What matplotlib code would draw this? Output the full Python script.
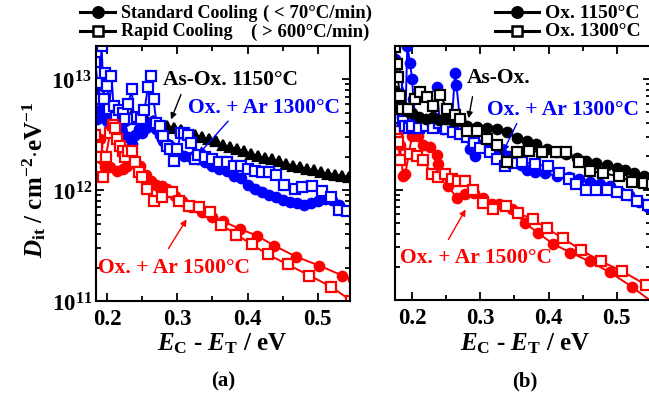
import matplotlib
matplotlib.use('Agg')
import matplotlib.pyplot as plt
from matplotlib.lines import Line2D
from matplotlib.ticker import LogLocator, MultipleLocator, NullFormatter
import numpy as np

plt.rcParams['font.family'] = ['Liberation Serif', 'DejaVu Serif']
plt.rcParams['font.weight'] = 'bold'
plt.rcParams['mathtext.fontset'] = 'custom'
plt.rcParams['mathtext.rm'] = 'Liberation Serif:bold'
plt.rcParams['mathtext.it'] = 'Liberation Serif:bold:italic'
plt.rcParams['mathtext.bf'] = 'Liberation Serif:bold'

# values, Dit stored as log10(Dit / cm^-2 eV^-1)

# ---- panel (a) ----
a_asox_e = [0.185, 0.195, 0.205, 0.215, 0.225, 0.235, 0.245, 0.255, 0.265, 0.275,
            0.285, 0.295, 0.305, 0.315, 0.325, 0.335, 0.345, 0.355, 0.365, 0.375,
            0.385, 0.395, 0.405, 0.415, 0.425, 0.435, 0.445, 0.455, 0.465, 0.475,
            0.485, 0.495, 0.505, 0.515, 0.525, 0.535, 0.545]
a_asox_d = [12.86, 12.78, 12.74, 12.72, 12.70, 12.68, 12.66, 12.64, 12.62, 12.60,
            12.58, 12.56, 12.54, 12.52, 12.50, 12.48, 12.46, 12.44, 12.41, 12.39,
            12.37, 12.35, 12.33, 12.31, 12.29, 12.28, 12.26, 12.24, 12.22, 12.21,
            12.19, 12.18, 12.16, 12.15, 12.14, 12.13, 12.12]

a_ar1300_std_e = [0.185, 0.19, 0.195, 0.20, 0.205, 0.21, 0.215, 0.22, 0.225, 0.23,
                  0.235, 0.24, 0.245, 0.25, 0.255, 0.26, 0.265, 0.27, 0.275, 0.28,
                  0.285, 0.29, 0.30, 0.31, 0.32, 0.33, 0.34, 0.35, 0.36, 0.37,
                  0.38, 0.39, 0.40, 0.41, 0.42, 0.43, 0.44, 0.45, 0.46, 0.47,
                  0.48, 0.49, 0.50, 0.51, 0.52, 0.53]
a_ar1300_std_d = [12.64, 12.72, 12.66, 12.62, 12.70, 12.58, 12.60, 12.55, 12.62, 12.48,
                  12.42, 12.50, 12.55, 12.52, 12.56, 12.60, 12.62, 12.55, 12.50, 12.44,
                  12.42, 12.40, 12.35, 12.31, 12.30, 12.28, 12.25, 12.22, 12.19, 12.17,
                  12.13, 12.11, 12.05, 12.01, 11.98, 11.96, 11.94, 11.91, 11.89, 11.88,
                  11.87, 11.88, 11.90, 11.92, 11.91, 11.87]

a_ar1300_rap_e = [0.183, 0.186, 0.188, 0.192, 0.195, 0.197, 0.200, 0.203, 0.206, 0.209,
                  0.213, 0.217, 0.222, 0.226, 0.230, 0.235, 0.238, 0.243, 0.248, 0.253,
                  0.258, 0.262, 0.266, 0.270, 0.275, 0.280, 0.285, 0.290, 0.295, 0.300,
                  0.305, 0.310, 0.315, 0.320, 0.325, 0.330, 0.340, 0.350, 0.360, 0.370,
                  0.380, 0.390, 0.400, 0.410, 0.420, 0.430, 0.440, 0.452, 0.467, 0.478,
                  0.492, 0.506, 0.519, 0.530, 0.542]
a_ar1300_rap_d = [13.16, 12.97, 12.82, 13.30, 12.82, 13.06, 12.94, 12.73, 13.03, 12.76,
                  12.66, 12.72, 12.70, 12.64, 12.78, 12.91, 12.64, 12.66, 12.64, 12.72,
                  12.93, 13.03, 12.82, 12.61, 12.58, 12.49, 12.40, 12.37, 12.26, 12.37,
                  12.52, 12.52, 12.50, 12.43, 12.28, 12.32, 12.30, 12.28, 12.25, 12.25,
                  12.22, 12.22, 12.19, 12.17, 12.16, 12.16, 12.14, 12.05, 12.01, 12.03,
                  12.04, 11.99, 11.94, 11.82, 11.81]

a_ar1500_std_e = [0.186, 0.189, 0.190, 0.193, 0.197, 0.204, 0.214, 0.222, 0.228, 0.237,
                  0.247, 0.255, 0.262, 0.270, 0.278, 0.285, 0.297, 0.306, 0.320, 0.335,
                  0.350, 0.365, 0.389, 0.413, 0.438, 0.469, 0.502, 0.535, 0.55]
a_ar1500_std_d = [12.40, 12.46, 12.32, 12.28, 12.21, 12.21, 12.17, 12.19, 12.22, 12.25,
                  12.22, 12.14, 12.08, 12.05, 12.04, 12.01, 11.95, 11.90, 11.85, 11.80,
                  11.76, 11.72, 11.65, 11.59, 11.50, 11.40, 11.32, 11.23, 11.20]

a_ar1500_rap_e = [0.183, 0.186, 0.190, 0.194, 0.198, 0.204, 0.208, 0.211, 0.214, 0.218,
                  0.222, 0.226, 0.230, 0.235, 0.240, 0.245, 0.250, 0.257, 0.267, 0.278,
                  0.292, 0.303, 0.316, 0.331, 0.347, 0.362, 0.384, 0.406, 0.429, 0.457,
                  0.488, 0.519, 0.548]
a_ar1500_rap_d = [12.50, 12.39, 12.30, 12.12, 12.30, 12.52, 12.59, 12.56, 12.46, 12.40,
                  12.35, 12.30, 12.35, 12.35, 12.25, 12.16, 12.12, 12.01, 11.90, 11.94,
                  11.98, 11.90, 11.86, 11.85, 11.80, 11.69, 11.60, 11.51, 11.42, 11.33,
                  11.23, 11.13, 11.00]

# ---- panel (b) ----
b_ox1150_e = [0.175, 0.180, 0.185, 0.190, 0.195, 0.200, 0.210, 0.220, 0.230, 0.240,
              0.250, 0.260, 0.270, 0.280, 0.295, 0.310, 0.324, 0.339, 0.353, 0.368,
              0.382, 0.397, 0.411, 0.426, 0.441, 0.455, 0.470, 0.485, 0.500, 0.512,
              0.525, 0.540, 0.552]
b_ox1150_d = [12.89, 12.79, 12.76, 12.72, 12.70, 12.69, 12.66, 12.64, 12.66, 12.63,
              12.64, 12.62, 12.62, 12.58, 12.57, 12.56, 12.55, 12.52, 12.47, 12.44,
              12.41, 12.37, 12.34, 12.32, 12.29, 12.26, 12.24, 12.22, 12.20, 12.18,
              12.15, 12.12, 12.10]

b_ox1300_e = [0.175, 0.178, 0.179, 0.182, 0.185, 0.194, 0.204, 0.212, 0.222, 0.231,
              0.241, 0.251, 0.263, 0.270, 0.280, 0.295, 0.310, 0.324, 0.339, 0.353,
              0.372, 0.391, 0.411, 0.426, 0.445, 0.460, 0.479, 0.503, 0.522, 0.540,
              0.552]
b_ox1300_d = [13.29, 13.14, 13.02, 12.85, 12.73, 12.73, 12.82, 12.88, 12.84, 12.76,
              12.86, 12.73, 12.68, 12.64, 12.53, 12.53, 12.46, 12.40, 12.25, 12.34,
              12.35, 12.34, 12.34, 12.34, 12.25, 12.17, 12.15, 12.12, 12.07, 12.06,
              12.05]

b_ar1300_std_e = [0.175, 0.180, 0.185, 0.190, 0.193, 0.197, 0.200, 0.202, 0.205, 0.210,
                  0.215, 0.220, 0.225, 0.230, 0.236, 0.241, 0.246, 0.252, 0.258, 0.263,
                  0.265, 0.270, 0.278, 0.285, 0.292, 0.300, 0.310, 0.320, 0.330, 0.340,
                  0.350, 0.360, 0.368, 0.380, 0.395, 0.413, 0.430, 0.445, 0.460, 0.475,
                  0.490, 0.505, 0.518, 0.533, 0.545]
b_ar1300_std_d = [13.18, 12.90, 12.66, 12.60, 13.30, 13.15, 13.00, 12.82, 12.62, 12.60,
                  12.58, 12.62, 12.60, 12.62, 12.93, 12.58, 12.55, 12.56, 12.60, 13.06,
                  12.95, 12.64, 12.50, 12.37, 12.30, 12.40, 12.42, 12.38, 12.34, 12.30,
                  12.27, 12.22, 12.18, 12.16, 12.15, 12.12, 12.11, 12.10, 12.07, 12.05,
                  12.03, 11.98, 11.95, 11.89, 11.84]

b_ar1300_rap_e = [0.175, 0.178, 0.182, 0.186, 0.190, 0.195, 0.200, 0.210, 0.220, 0.230,
                  0.240, 0.250, 0.260, 0.270, 0.280, 0.290, 0.300, 0.314, 0.325, 0.336,
                  0.350, 0.361, 0.380, 0.399, 0.415, 0.430, 0.440, 0.455, 0.470, 0.485,
                  0.500, 0.515, 0.530, 0.545]
b_ar1300_rap_d = [13.10, 12.95, 12.75, 12.62, 12.58, 12.56, 12.58, 12.56, 12.58, 12.56,
                  12.60, 12.55, 12.52, 12.50, 12.48, 12.42, 12.38, 12.34, 12.28, 12.21,
                  12.24, 12.25, 12.23, 12.21, 12.15, 12.10, 12.05, 12.00, 12.00, 12.00,
                  11.98, 11.95, 11.90, 11.86]

b_ar1500_std_e = [0.180, 0.182, 0.187, 0.190, 0.200, 0.201, 0.209, 0.216, 0.226, 0.236,
                  0.238, 0.253, 0.266, 0.277, 0.290, 0.304, 0.317, 0.328, 0.347, 0.365,
                  0.384, 0.406, 0.432, 0.460, 0.490, 0.522, 0.552]
b_ar1500_std_d = [12.52, 12.40, 12.12, 12.14, 12.49, 12.59, 12.49, 12.40, 12.39, 12.31,
                  12.23, 12.03, 11.92, 11.96, 11.97, 11.92, 11.87, 11.87, 11.82, 11.70,
                  11.61, 11.51, 11.43, 11.35, 11.25, 11.12, 10.98]

b_ar1500_rap_e = [0.175, 0.178, 0.180, 0.182, 0.197, 0.207, 0.216, 0.229, 0.238, 0.248,
                  0.258, 0.267, 0.277, 0.289, 0.304, 0.318, 0.338, 0.355, 0.377, 0.397,
                  0.421, 0.448, 0.477, 0.508, 0.542]
b_ar1500_rap_d = [12.53, 12.46, 12.43, 12.27, 12.32, 12.30, 12.27, 12.14, 12.11, 12.14,
                  12.10, 12.08, 12.08, 12.00, 11.88, 11.82, 11.85, 11.79, 11.73, 11.65,
                  11.56, 11.45, 11.35, 11.26, 11.14]

BLUE = '#0000ff'
RED = '#ff0000'
W, H = 649, 402


def fx(px):
    return px / W


def fy(py):
    return 1 - py / H


def series(ax, e, logd, color, marker, ms=6.8):
    face = 'white' if marker == 's' else color
    ax.plot(e, 10 ** np.array(logd), color=color, marker=marker, ms=ms,
            mfc=face, mec=color, mew=1.6, lw=1.4, clip_on=True)


def style_axes(ax, xlim, show_y):
    ax.set_yscale('log')
    ax.set_ylim(1e11, 2e13)
    ax.set_xlim(*xlim)
    ax.xaxis.set_major_locator(MultipleLocator(0.1))
    ax.xaxis.set_minor_locator(MultipleLocator(0.05))
    ax.yaxis.set_major_locator(LogLocator(base=10))
    ax.yaxis.set_minor_locator(LogLocator(base=10, subs=range(2, 10)))
    ax.yaxis.set_minor_formatter(NullFormatter())
    ax.tick_params(which='both', direction='in', top=True, right=True, width=1.3,
                   labelsize=16.5)
    ax.tick_params(which='major', length=6)
    ax.tick_params(which='minor', length=3.5)
    ax.tick_params(axis='x', pad=5)
    ax.tick_params(axis='y', pad=3, labelleft=show_y)
    for s in ax.spines.values():
        s.set_linewidth(1.5)


fig = plt.figure(figsize=(6.49, 4.02), dpi=100)

ax1 = fig.add_axes([fx(96), fy(302), fx(350) - fx(96), fy(47) - fy(302)])
series(ax1, a_asox_e, a_asox_d, 'black', '^', ms=7)
series(ax1, a_ar1300_std_e, a_ar1300_std_d, BLUE, 'o')
series(ax1, a_ar1300_rap_e, a_ar1300_rap_d, BLUE, 's')
series(ax1, a_ar1500_std_e, a_ar1500_std_d, RED, 'o')
series(ax1, a_ar1500_rap_e, a_ar1500_rap_d, RED, 's')
style_axes(ax1, (0.184, 0.546), True)

ax2 = fig.add_axes([fx(395), fy(301), fx(651) - fx(395), fy(47) - fy(301)])
series(ax2, b_ar1500_std_e, b_ar1500_std_d, RED, 'o')
series(ax2, b_ar1500_rap_e, b_ar1500_rap_d, RED, 's')
series(ax2, b_ar1300_std_e, b_ar1300_std_d, BLUE, 'o')
series(ax2, b_ar1300_rap_e, b_ar1300_rap_d, BLUE, 's')
series(ax2, b_ox1150_e, b_ox1150_d, 'black', 'o')
series(ax2, b_ox1300_e, b_ox1300_d, 'black', 's')
style_axes(ax2, (0.175, 0.55), False)

# axis labels
xl = r'$\mathit{E}_{\mathrm{C}}$ - $\mathit{E}_{\mathrm{T}}$ / eV'
fig.text(fx(222), fy(344), xl, ha='center', va='center', fontsize=18)
fig.text(fx(525), fy(344), xl, ha='center', va='center', fontsize=18)
fig.text(fx(34), fy(180), r'$\mathit{D}_{\mathrm{it}}$ / cm$^{-2}$$\cdot$eV$^{-1}$',
         ha='center', va='center', rotation=90, fontsize=18)
fig.text(fx(223), fy(381), '(a)', ha='center', va='center', fontsize=15)
fig.text(fx(525), fy(381), '(b)', ha='center', va='center', fontsize=15)

# legend samples
def legend_item(x0, x1, y, marker, label, size):
    face = 'white' if marker == 's' else 'black'
    fig.add_artist(Line2D([fx(x0), fx(x1)], [fy(y), fy(y)], color='black', lw=2.2,
                          transform=fig.transFigure))
    fig.add_artist(Line2D([fx((x0 + x1) / 2)], [fy(y)], color='black', marker=marker,
                          ms=7.5, mfc=face, mec='black', mew=1.8, ls='none',
                          transform=fig.transFigure))
    fig.text(fx(x1 + 6), fy(y), label, ha='left', va='center', fontsize=size)

legend_item(80, 115, 13, 'o', 'Standard Cooling', 13)
legend_item(80, 115, 32, 's', 'Rapid Cooling', 13)
fig.text(fx(372), fy(13), '( < 70°C/min)', ha='right', va='center', fontsize=13.5)
fig.text(fx(369), fy(32), '( > 600°C/min)', ha='right', va='center', fontsize=13.5)
legend_item(495, 539, 13, 'o', 'Ox. 1150°C', 14)
legend_item(495, 539, 32, 's', 'Ox. 1300°C', 14)

# annotations
def note(text, tx, ty, color, a0, a1, ha='left'):
    fig.text(fx(tx), fy(ty), text, color=color, ha=ha, va='center', fontsize=15.5)
    fig.add_artist(matplotlib.patches.FancyArrowPatch(
        (fx(a0[0]), fy(a0[1])), (fx(a1[0]), fy(a1[1])),
        transform=fig.transFigure, arrowstyle='-|>', mutation_scale=9,
        color=color, lw=1.0))

note('As-Ox. 1150°C', 163, 80, 'black', (182, 93), (170, 123))
note('Ox. + Ar 1300°C', 188, 108, BLUE, (230, 120), (197, 157))
note('Ox. + Ar 1500°C', 98, 268, RED, (167, 252), (188, 218))
note('As-Ox.', 467, 78, 'black', (473, 95), (468, 122))
note('Ox. + Ar 1300°C', 487, 110, BLUE, (518, 122), (502, 155))
note('Ox. + Ar 1500°C', 400, 258, RED, (447, 243), (467, 208))

fig.savefig('out.png', dpi=100)
